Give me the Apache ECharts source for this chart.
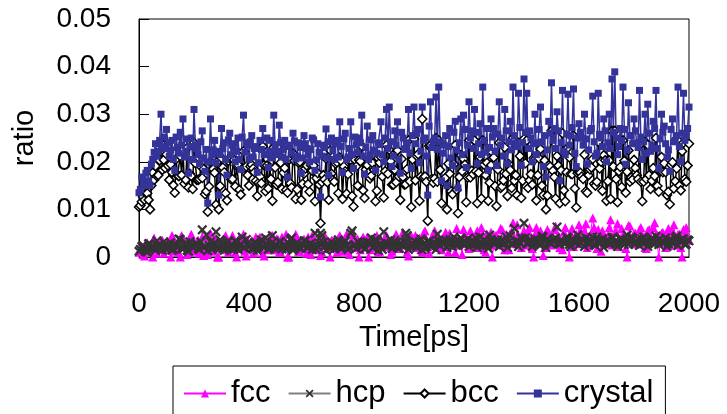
<!DOCTYPE html>
<html>
<head>
<meta charset="utf-8">
<title>Structure ratio vs time</title>
<script src="https://cdn.jsdelivr.net/npm/echarts@6/dist/echarts.min.js"></script>
<style>
  html, body { margin: 0; padding: 0; background: #fff; }
  #chart { width: 727px; height: 414px; }
</style>
</head>
<body>
<div id="chart"></div>
<script>
// Sampling interval of the trajectory, ps (samples at t = 0, 5, ... 2000)
const sampleStep = 5;

// Axis tick values
const timeTicks = [0, 400, 800, 1200, 1600, 2000];
const ratioTicks = [0, 0.01, 0.02, 0.03, 0.04, 0.05];

const seriesNames = ['fcc', 'hcp', 'bcc', 'crystal'];

// Ratio of atoms in each local structure; one row per 100 ps
const fcc = [
  0.0010,0.0018,0.0022,0.0005,0.0002,0.0030,0.0030,0.0012,0.0015,0.0025,0,0.0040,0.0025,0.0008,0.0018,0.0020,0.0035,0.0035,0.0008,0.0015,
  0.0028,0.0028,0.0020,0,0.0045,0.0038,0.0012,0.0022,0.0030,0.0010,0,0.0045,0.0040,0.0030,0.0022,0.0005,0.0010,0.0025,0.0048,0.0040,
  0.0015,0.0012,0.0030,0.0035,0.0008,0.0020,0.0042,0.0003,0.0018,0.0042,0.0005,0.0028,0.0050,0.0015,0.0012,0.0038,0.0035,0,0,0.0030,
  0.0028,0.0022,0.0040,0.0045,0.0015,0.0010,0.0022,0.0032,0.0045,0.0018,0.0010,0,0.0032,0.0040,0.0018,0.0025,0.0048,0.0012,0.0002,0.0035,
  0.0025,0.0028,0.0035,0.0008,0.0012,0.0042,0.0028,0.0020,0.0042,0.0035,0.0008,0.0002,0.0030,0.0030,0.0020,0.0015,0.0045,0.0045,0.0015,0.0022,
  0.0038,0.0038,0.0010,0.0010,0.0042,0.0025,0.0025,0.0048,0,0,0.0035,0.0032,0.0020,0.0020,0.0048,0.0040,0.0012,0.0012,0.0030,0.0028,
  0.0038,0.0018,0.0008,0.0042,0.0028,0.0005,0.0045,0.0030,0.0015,0.0022,0.0032,0.0038,0.0003,0.0010,0.0025,0.0045,0.0040,0.0025,0.0018,0,
  0.0035,0.0035,0.0022,0.0020,0.0010,0.0040,0.0045,0.0012,0.0028,0.0028,0.0038,0.0048,0.0012,0.0005,0.0030,0.0032,0.0048,0.0022,0.0020,0.0038,
  0,0.0015,0.0035,0.0042,0.0025,0.0028,0.0042,0,0.0015,0.0035,0.0030,0.0020,0.0020,0.0045,0.0010,0.0012,0.0038,0.0030,0.0022,0.0040,
  0.0045,0.0025,0.0028,0.0005,0.0012,0.0038,0.0040,0.0048,0.0032,0.0018,0.0018,0.0030,0.0052,0.0042,0.0025,0.0010,0.0002,0.0035,0.0045,0.0022,
  0.0035,0.0045,0.0020,0.0028,0.0040,0.0015,0.0010,0.0050,0.0055,0.0032,0.0022,0.0008,0.0035,0.0040,0.0048,0.0055,0.0025,0.0020,0.0042,0.0035,
  0.0015,0.0030,0.0038,0.0052,0.0022,0.0010,0.0050,0.0042,0.0030,0.0025,0.0010,0.0060,0.0025,0.0038,0.0028,0.0005,0.0058,0.0048,0.0035,0.0030,
  0.0018,0.0055,0.0042,0.0020,0.0030,0.0042,0.0055,0.0035,0.0020,0.0062,0.0048,0.0015,0.0010,0.0048,0.0038,0.0028,0.0052,0,0.0025,0.0045,
  0.0045,0.0038,0.0030,0.0060,0.0058,0.0025,0.0015,0.0048,0.0040,0.0015,0.0050,0.0052,0.0072,0.0035,0.0028,0.0068,0.0045,0.0030,0.0020,0.0042,
  0.0055,0.0025,0.0035,0.0055,0.0062,0.0040,0.0018,0,0.0048,0.0062,0.0030,0.0035,0.0055,0.0048,0.0003,0.0020,0.0040,0.0058,0.0052,0.0040,
  0.0025,0.0030,0.0058,0.0065,0.0030,0.0045,0.0020,0.0022,0.0015,0.0052,0.0062,0.0038,0.0038,0,0.0050,0.0060,0.0022,0.0042,0.0048,0.0028,
  0.0068,0.0055,0.0035,0.0035,0.0055,0.0070,0.0020,0.0025,0.0045,0.0048,0.0082,0.0062,0.0030,0.0018,0.0058,0.0040,0.0012,0.0055,0.0048,0.0032,
  0.0040,0.0045,0.0062,0.0078,0.0025,0.0030,0.0052,0.0052,0.0070,0.0022,0.0035,0.0060,0.0045,0.0040,0.0018,0,0.0066,0.0065,0.0038,0.0035,
  0.0050,0.0050,0.0028,0.0028,0.0058,0.0062,0.0042,0.0042,0.0020,0.0018,0.0055,0.0058,0.0035,0.0035,0.0062,0.0072,0.0048,0.0045,0,0.0030,
  0.0050,0.0052,0.0040,0.0020,0.0050,0.0060,0.0025,0.0038,0.0055,0.0068,0.0038,0.0025,0.0048,0.0048,0.0020,0,0.0058,0.0055,0.0062,0.0042,
  0.0035
];

const hcp = [
  0.0012,0.0016,0.0022,0.0024,0.0017,0.0012,0.0010,0.0028,0.0027,0.0020,0.0020,0.0018,0.0014,0.0034,0.0024,0.0022,0.0018,0.0014,0.0032,0.0026,
  0.0016,0.0020,0.0022,0.0030,0.0014,0.0016,0.0027,0.0024,0.0020,0.0038,0.0037,0.0018,0.0017,0.0026,0.0030,0.0014,0.0012,0.0032,0.0024,0.0022,
  0.0020,0.0027,0.0028,0.0018,0.0016,0.0032,0.0057,0.0020,0.0022,0.0046,0.0013,0.0024,0.0032,0.0016,0.0020,0.0030,0.0053,0.0022,0.0017,0.0036,
  0.0026,0.0018,0.0014,0.0026,0.0030,0.0034,0.0022,0.0020,0.0018,0.0016,0.0034,0.0030,0.0016,0.0024,0.0027,0.0042,0.0020,0.0020,0.0037,0.0028,
  0.0022,0.0024,0.0018,0.0016,0.0030,0.0030,0.0014,0.0022,0.0026,0.0036,0.0022,0.0020,0.0040,0.0028,0.0016,0.0018,0.0028,0.0045,0.0020,0.0026,
  0.0024,0.0020,0.0032,0.0032,0.0017,0.0024,0.0025,0.0016,0.0020,0.0028,0.0037,0.0040,0.0014,0.0022,0.0028,0.0030,0.0022,0.0018,0.0018,0.0026,
  0.0034,0.0034,0.0020,0.0020,0.0027,0.0028,0.0016,0.0024,0.0050,0.0016,0.0022,0.0030,0.0050,0.0045,0.0030,0.0022,0.0014,0.0026,0.0026,0.0018,
  0.0032,0.0028,0.0017,0.0022,0.0028,0.0036,0.0022,0.0018,0.0020,0.0030,0.0034,0.0024,0.0016,0.0020,0.0050,0.0055,0.0024,0.0026,0.0018,0.0032,
  0.0030,0.0024,0.0022,0.0030,0.0017,0.0018,0.0032,0.0028,0.0027,0.0040,0.0020,0.0022,0.0037,0.0034,0.0014,0.0026,0.0028,0.0016,0.0053,0.0030,
  0.0022,0.0028,0.0026,0.0036,0.0018,0.0022,0.0034,0.0030,0.0020,0.0018,0.0030,0.0026,0.0022,0.0032,0.0050,0.0045,0.0016,0.0024,0.0028,0.0028,
  0.0024,0.0032,0.0020,0.0024,0.0032,0.0038,0.0015,0.0028,0.0018,0.0022,0.0032,0.0034,0.0022,0.0026,0.0030,0.0030,0.0016,0.0048,0.0034,0.0024,
  0.0032,0.0030,0.0028,0.0036,0.0020,0.0026,0.0037,0.0028,0.0022,0.0042,0.0032,0.0024,0.0028,0.0034,0.0040,0.0030,0.0026,0.0026,0.0030,0.0038,
  0.0022,0.0028,0.0034,0.0034,0.0027,0.0040,0.0020,0.0026,0.0042,0.0030,0.0024,0.0036,0.0030,0.0024,0.0018,0.0046,0.0037,0.0032,0.0028,0.0028,
  0.0032,0.0036,0.0022,0.0030,0.0036,0.0026,0.0030,0.0042,0.0020,0.0032,0.0044,0.0028,0.0027,0.0060,0.0032,0.0034,0.0022,0.0030,0.0040,0.0038,
  0.0071,0.0040,0.0028,0.0028,0.0034,0.0036,0.0022,0.0030,0.0038,0.0034,0.0030,0.0026,0.0025,0.0044,0.0042,0.0032,0.0020,0.0038,0.0032,0.0030,
  0.0028,0.0034,0.0036,0.0040,0.0063,0.0028,0.0027,0.0036,0.0032,0.0030,0.0028,0.0042,0.0040,0.0026,0.0022,0.0038,0.0034,0.0032,0.0030,0.0046,
  0.0026,0.0030,0.0038,0.0036,0.0022,0.0040,0.0032,0.0028,0.0028,0.0034,0.0042,0.0026,0.0024,0.0042,0.0036,0.0032,0.0030,0.0038,0.0020,0.0030,
  0.0034,0.0036,0.0027,0.0028,0.0040,0.0042,0.0032,0.0034,0.0022,0.0030,0.0038,0.0038,0.0030,0.0026,0.0034,0.0046,0.0026,0.0032,0.0042,0.0040,
  0.0028,0.0028,0.0032,0.0038,0.0024,0.0032,0.0038,0.0042,0.0030,0.0036,0.0022,0.0030,0.0036,0.0040,0.0028,0.0028,0.0044,0.0034,0.0026,0.0038,
  0.0032,0.0032,0.0030,0.0040,0.0022,0.0028,0.0036,0.0036,0.0028,0.0030,0.0040,0.0044,0.0024,0.0034,0.0032,0.0038,0.0038,0.0026,0.0027,0.0036,
  0.0034
];

const bcc = [
  0.0105,0.0108,0.0116,0.0126,0.0120,0.0134,0.0134,0.0120,0.0100,0.0150,0.0177,0.0162,0.0191,0.0170,0.0172,0.0203,0.0239,0.0183,0.0204,0.0187,
  0.0216,0.0192,0.0162,0.0195,0.0178,0.0151,0.0135,0.0206,0.0172,0.0170,0.0212,0.0172,0.0225,0.0154,0.0162,0.0229,0.0146,0.0175,0.0170,0.0143,
  0.0240,0.0197,0.0162,0.0162,0.0164,0.0190,0.0166,0.0185,0.0132,0.0138,0.0095,0.0148,0.0200,0.0183,0.0185,0.0177,0.0110,0.0200,0.0100,0.0149,
  0.0208,0.0188,0.0178,0.0134,0.0119,0.0202,0.0208,0.0163,0.0164,0.0204,0.0148,0.0192,0.0194,0.0141,0.0131,0.0185,0.0222,0.0188,0.0190,0.0172,
  0.0150,0.0190,0.0194,0.0186,0.0178,0.0160,0.0128,0.0156,0.0169,0.0155,0.0232,0.0193,0.0138,0.0192,0.0144,0.0189,0.0164,0.0118,0.0230,0.0188,
  0.0152,0.0157,0.0227,0.0198,0.0143,0.0177,0.0187,0.0141,0.0135,0.0204,0.0155,0.0146,0.0218,0.0202,0.0122,0.0142,0.0198,0.0200,0.0120,0.0154,
  0.0175,0.0186,0.0192,0.0153,0.0137,0.0193,0.0181,0.0192,0.0117,0.0166,0.0176,0.0152,0.0071,0.0157,0.0172,0.0163,0.0207,0.0157,0.0120,0.0224,
  0.0175,0.0162,0.0158,0.0196,0.0199,0.0134,0.0209,0.0202,0.0122,0.0190,0.0180,0.0133,0.0174,0.0203,0.0204,0.0128,0.0106,0.0204,0.0190,0.0150,
  0.0204,0.0201,0.0233,0.0140,0.0124,0.0184,0.0193,0.0177,0.0165,0.0171,0.0197,0.0183,0.0117,0.0139,0.0208,0.0198,0.0210,0.0169,0.0125,0.0180,
  0.0235,0.0175,0.0225,0.0201,0.0152,0.0152,0.0183,0.0157,0.0224,0.0169,0.0120,0.0206,0.0168,0.0152,0.0153,0.0185,0.0245,0.0159,0.0105,0.0205,
  0.0248,0.0161,0.0212,0.0216,0.0118,0.0169,0.0290,0.0167,0.0169,0.0158,0.0076,0.0233,0.0235,0.0164,0.0156,0.0165,0.0250,0.0158,0.0245,0.0183,
  0.0113,0.0158,0.0161,0.0167,0.0100,0.0196,0.0175,0.0138,0.0132,0.0195,0.0235,0.0141,0.0092,0.0168,0.0214,0.0180,0.0206,0.0194,0.0115,0.0167,
  0.0245,0.0167,0.0181,0.0174,0.0245,0.0180,0.0113,0.0177,0.0210,0.0123,0.0245,0.0194,0.0172,0.0198,0.0118,0.0156,0.0193,0.0220,0.0209,0.0149,
  0.0107,0.0184,0.0240,0.0145,0.0148,0.0161,0.0230,0.0175,0.0128,0.0195,0.0183,0.0145,0.0250,0.0160,0.0172,0.0130,0.0240,0.0212,0.0124,0.0160,
  0.0248,0.0197,0.0245,0.0145,0.0161,0.0174,0.0152,0.0208,0.0206,0.0119,0.0172,0.0207,0.0227,0.0150,0.0130,0.0203,0.0100,0.0129,0.0193,0.0190,
  0.0265,0.0181,0.0168,0.0123,0.0212,0.0192,0.0113,0.0182,0.0260,0.0140,0.0117,0.0178,0.0230,0.0209,0.0175,0.0174,0.0255,0.0144,0.0104,0.0176,
  0.0178,0.0177,0.0169,0.0164,0.0215,0.0138,0.0135,0.0172,0.0184,0.0188,0.0206,0.0154,0.0150,0.0158,0.0242,0.0186,0.0200,0.0139,0.0214,0.0203,
  0.0118,0.0159,0.0203,0.0122,0.0265,0.0190,0.0265,0.0164,0.0115,0.0180,0.0189,0.0147,0.0245,0.0202,0.0135,0.0179,0.0224,0.0158,0.0167,0.0163,
  0.0204,0.0187,0.0172,0.0164,0.0235,0.0158,0.0117,0.0158,0.0242,0.0164,0.0236,0.0172,0.0143,0.0160,0.0187,0.0170,0.0250,0.0149,0.0137,0.0180,
  0.0210,0.0178,0.0197,0.0178,0.0130,0.0137,0.0111,0.0194,0.0199,0.0144,0.0159,0.0186,0.0245,0.0150,0.0140,0.0222,0.0240,0.0164,0.0158,0.0192,
  0.0238
];

const crystal = [
  0.0135,0.0142,0.0168,0.0155,0.0150,0.0176,0.0182,0.0160,0.0150,0.0195,0.0205,0.0220,0.0238,0.0212,0.0222,0.0245,0.0300,0.0232,0.0252,0.0228,
  0.0268,0.0240,0.0212,0.0225,0.0245,0.0205,0.0182,0.0252,0.0230,0.0218,0.0262,0.0235,0.0290,0.0210,0.0222,0.0248,0.0176,0.0232,0.0250,0.0205,
  0.0310,0.0236,0.0228,0.0215,0.0196,0.0242,0.0265,0.0208,0.0180,0.0226,0.0113,0.0200,0.0290,0.0214,0.0225,0.0245,0.0198,0.0222,0.0130,0.0215,
  0.0270,0.0228,0.0240,0.0205,0.0172,0.0246,0.0260,0.0215,0.0235,0.0238,0.0200,0.0222,0.0250,0.0205,0.0184,0.0252,0.0298,0.0220,0.0240,0.0235,
  0.0205,0.0242,0.0255,0.0210,0.0228,0.0232,0.0178,0.0198,0.0245,0.0226,0.0270,0.0215,0.0216,0.0250,0.0188,0.0222,0.0245,0.0208,0.0298,0.0236,
  0.0222,0.0215,0.0277,0.0240,0.0210,0.0226,0.0245,0.0205,0.0168,0.0232,0.0235,0.0218,0.0260,0.0244,0.0206,0.0212,0.0240,0.0230,0.0176,0.0208,
  0.0255,0.0238,0.0228,0.0215,0.0200,0.0226,0.0250,0.0246,0.0182,0.0204,0.0238,0.0220,0.0126,0.0212,0.0235,0.0230,0.0269,0.0208,0.0172,0.0242,
  0.0250,0.0225,0.0205,0.0238,0.0245,0.0210,0.0284,0.0232,0.0178,0.0248,0.0260,0.0205,0.0210,0.0228,0.0284,0.0215,0.0186,0.0252,0.0236,0.0220,
  0.0250,0.0240,0.0298,0.0212,0.0174,0.0230,0.0275,0.0205,0.0215,0.0246,0.0255,0.0225,0.0182,0.0218,0.0240,0.0236,0.0284,0.0215,0.0200,0.0250,
  0.0310,0.0228,0.0315,0.0242,0.0190,0.0212,0.0265,0.0235,0.0284,0.0205,0.0176,0.0262,0.0250,0.0226,0.0228,0.0240,0.0310,0.0218,0.0186,0.0255,
  0.0315,0.0238,0.0260,0.0268,0.0198,0.0222,0.0315,0.0245,0.0250,0.0212,0.0130,0.0275,0.0326,0.0230,0.0242,0.0250,0.0336,0.0226,0.0357,0.0242,
  0.0160,0.0218,0.0235,0.0255,0.0150,0.0232,0.0270,0.0208,0.0192,0.0262,0.0285,0.0225,0.0145,0.0240,0.0290,0.0215,0.0298,0.0268,0.0188,0.0235,
  0.0326,0.0250,0.0265,0.0228,0.0310,0.0262,0.0196,0.0238,0.0280,0.0215,0.0357,0.0245,0.0220,0.0270,0.0182,0.0230,0.0290,0.0252,0.0270,0.0222,
  0.0192,0.0258,0.0326,0.0235,0.0250,0.0212,0.0310,0.0265,0.0196,0.0242,0.0285,0.0225,0.0357,0.0255,0.0240,0.0232,0.0344,0.0272,0.0192,0.0240,
  0.0374,0.0262,0.0344,0.0228,0.0265,0.0250,0.0200,0.0238,0.0300,0.0215,0.0240,0.0268,0.0315,0.0242,0.0190,0.0255,0.0168,0.0225,0.0285,0.0260,
  0.0366,0.0245,0.0270,0.0228,0.0305,0.0265,0.0160,0.0240,0.0350,0.0222,0.0215,0.0258,0.0342,0.0235,0.0255,0.0272,0.0353,0.0218,0.0190,0.0250,
  0.0280,0.0262,0.0250,0.0235,0.0300,0.0248,0.0195,0.0225,0.0265,0.0270,0.0338,0.0242,0.0212,0.0218,0.0344,0.0258,0.0250,0.0232,0.0290,0.0265,
  0.0200,0.0240,0.0300,0.0228,0.0374,0.0262,0.0389,0.0250,0.0215,0.0232,0.0270,0.0245,0.0357,0.0268,0.0195,0.0225,0.0324,0.0255,0.0255,0.0238,
  0.0290,0.0265,0.0240,0.0230,0.0350,0.0252,0.0205,0.0242,0.0300,0.0218,0.0321,0.0260,0.0222,0.0235,0.0285,0.0270,0.0350,0.0228,0.0186,0.0248,
  0.0300,0.0262,0.0275,0.0238,0.0210,0.0225,0.0180,0.0268,0.0290,0.0242,0.0245,0.0255,0.0357,0.0232,0.0200,0.0260,0.0344,0.0245,0.0255,0.0270,
  0.0315
];

const FONT = "'Liberation Sans', Arial, sans-serif";
// Filled "x" marker with heavier arms
const CROSS = 'path://M0,1.6 L1.6,0 L5,3.4 L8.4,0 L10,1.6 L6.6,5 L10,8.4 L8.4,10 L5,6.6 L1.6,10 L0,8.4 L3.4,5 Z';

function pairs(values) {
  return values.map((v, i) => [i * sampleStep, v]);
}

function lineSeries(name, values, opts) {
  return Object.assign({
    name: name,
    type: 'line',
    data: pairs(values),
    showSymbol: true,
    showAllSymbol: true,
    animation: false,
    emphasis: { disabled: true },
    silent: true
  }, opts);
}

const chart = echarts.init(document.getElementById('chart'), null, { renderer: 'canvas' });

chart.setOption({
  backgroundColor: '#ffffff',
  animation: false,
  grid: {
    left: 139, right: 38, top: 19, bottom: 157,
    show: true, borderColor: '#000', borderWidth: 1, backgroundColor: 'transparent'
  },
  legend: {
    data: seriesNames,
    left: 173, top: 366,
    padding: [12, 12, 20, 10],
    borderColor: '#000', borderWidth: 1,
    itemWidth: 42, itemHeight: 10, itemGap: 17,
    textStyle: { fontSize: 31, fontFamily: FONT, color: '#000' },
    selectedMode: false
  },
  xAxis: {
    type: 'value',
    min: timeTicks[0], max: timeTicks[timeTicks.length - 1],
    interval: timeTicks[1] - timeTicks[0],
    name: 'Time[ps]', nameLocation: 'middle', nameGap: 66,
    nameTextStyle: { fontSize: 29, fontFamily: FONT, color: '#000' },
    axisLine: { show: true, onZero: false, lineStyle: { color: '#000', width: 1 } },
    axisTick: { show: false },
    axisLabel: {
      fontSize: 28, fontFamily: FONT, color: '#000', margin: 33,
      formatter: v => String(v)
    },
    splitLine: { show: false }
  },
  yAxis: {
    type: 'value',
    min: ratioTicks[0], max: ratioTicks[ratioTicks.length - 1],
    interval: ratioTicks[1] - ratioTicks[0],
    name: 'ratio', nameLocation: 'middle', nameGap: 100,
    nameTextStyle: { fontSize: 29, fontFamily: FONT, color: '#000' },
    axisLine: { show: true, lineStyle: { color: '#000', width: 1 } },
    axisTick: { show: true, inside: true, length: 10, lineStyle: { color: '#000' } },
    axisLabel: {
      fontSize: 28, fontFamily: FONT, color: '#000', margin: 28,
      formatter: v => (v === 0 ? '0' : v.toFixed(2))
    },
    splitLine: { show: false }
  },
  series: [
    lineSeries('fcc', fcc, {
      symbol: 'triangle', symbolSize: 9,
      itemStyle: { color: '#ff00ff' },
      lineStyle: { color: '#ff00ff', width: 1 }
    }),
    lineSeries('hcp', hcp, {
      symbol: CROSS, symbolSize: 10,
      itemStyle: { color: '#333333' },
      lineStyle: { color: '#808080', width: 1 }
    }),
    lineSeries('bcc', bcc, {
      symbol: 'diamond', symbolSize: 9,
      itemStyle: { color: '#ffffff', borderColor: '#000000', borderWidth: 1.5 },
      lineStyle: { color: '#000000', width: 1.5 }
    }),
    lineSeries('crystal', crystal, {
      symbol: 'rect', symbolSize: 7,
      itemStyle: { color: '#333399' },
      lineStyle: { color: '#333399', width: 1.5 }
    })
  ]
});
</script>
</body>
</html>
